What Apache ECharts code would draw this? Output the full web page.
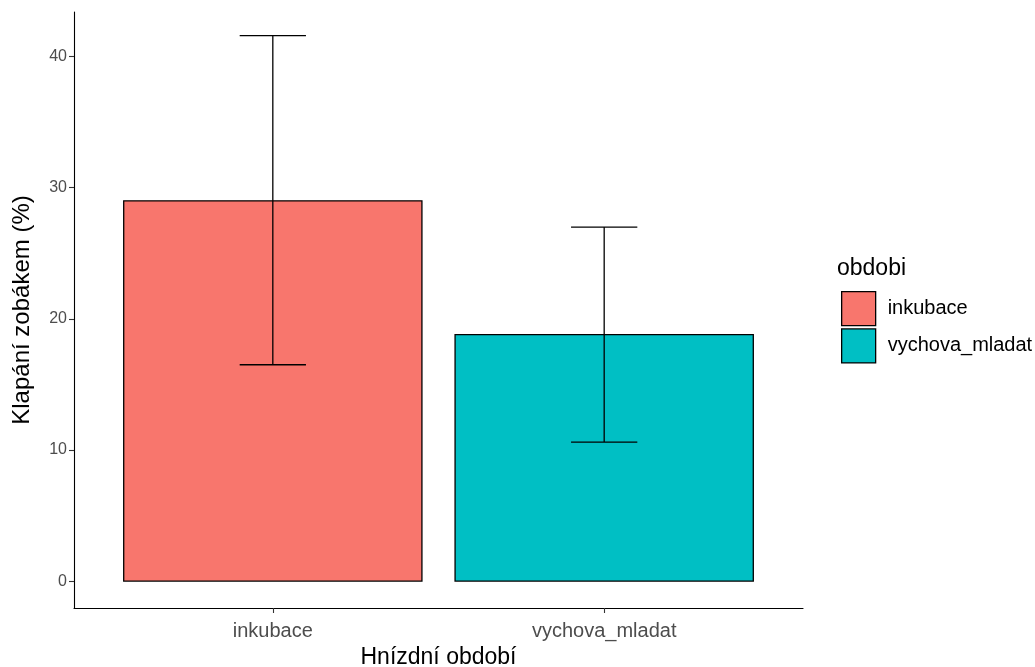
<!DOCTYPE html>
<html>
<head>
<meta charset="utf-8">
<script src="https://cdn.jsdelivr.net/npm/echarts@6/dist/echarts.min.js"></script>
<style>html,body{margin:0;padding:0;background:#fff}#c{width:1035px;height:667px}</style>
</head>
<body>
<div id="c"></div>
<script>
const categories = ['inkubace', 'vychova_mladat'];
const means = [29.0, 18.8];
const lower = [16.5, 10.6];
const upper = [41.6, 27.0];
const yTicks = [0, 10, 20, 30, 40];
const xTicks = [1, 2];
const colors = ['#F8766D', '#00BFC4'];

const chart = echarts.init(document.getElementById('c'), null, {renderer: 'canvas'});

const barSeries = categories.map((name, i) => ({
  type: 'custom',
  name: name,
  itemStyle: {color: colors[i], borderColor: '#000', borderWidth: 1.2},
  data: [[i + 1, means[i]]],
  renderItem: function (params, api) {
    const x = api.value(0), v = api.value(1);
    const p0 = api.coord([x - 0.45, 0]);
    const p1 = api.coord([x + 0.45, v]);
    return {
      type: 'rect',
      shape: {x: p0[0], y: p1[1], width: p1[0] - p0[0], height: p0[1] - p1[1]},
      style: {fill: colors[i], stroke: '#000', lineWidth: 1.3}
    };
  }
}));

const errData = categories.map((c, i) => [i + 1, lower[i], upper[i]]);

const errSeries = {
  type: 'custom',
  name: 'err',
  data: errData,
  z: 5,
  renderItem: function (params, api) {
    const x = api.value(0), lo = api.value(1), hi = api.value(2);
    const pl = api.coord([x, lo]);
    const ph = api.coord([x, hi]);
    const half = api.size([0.1, 0])[0];
    const st = {stroke: '#000', lineWidth: 1.3};
    return {
      type: 'group',
      children: [
        {type: 'line', shape: {x1: pl[0], y1: pl[1], x2: ph[0], y2: ph[1]}, style: st},
        {type: 'line', shape: {x1: ph[0] - half, y1: ph[1], x2: ph[0] + half, y2: ph[1]}, style: st},
        {type: 'line', shape: {x1: pl[0] - half, y1: pl[1], x2: pl[0] + half, y2: pl[1]}, style: st}
      ]
    };
  }
};

const FONT = 'Liberation Sans, Arial, sans-serif';

const option = {
  backgroundColor: '#fff',
  animation: false,
  textStyle: {fontFamily: FONT},
  title: {
    text: 'obdobi', left: 837, top: 257, padding: 0,
    textStyle: {fontSize: 23, fontWeight: 'normal', color: '#000', fontFamily: FONT}
  },
  legend: {
    orient: 'vertical', left: 841, top: 291, padding: 0,
    data: categories,
    icon: 'rect', itemWidth: 34, itemHeight: 34, itemGap: 2,
    itemStyle: {borderColor: '#000', borderWidth: 1.3},
    textStyle: {fontSize: 20, color: '#000', padding: [2, 0, 0, 7]},
    selectedMode: false
  },
  grid: {left: 74, right: 232, top: 12, bottom: 59, containLabel: false, outerBoundsMode: 'none'},
  xAxis: {
    type: 'value', min: 0.4, max: 2.6,
    name: 'Hnízdní období', nameLocation: 'middle', nameGap: 35,
    nameTextStyle: {fontSize: 23, color: '#000'},
    axisLine: {show: true, onZero: false, lineStyle: {color: '#000', width: 1.1}},
    axisTick: {show: true, customValues: xTicks, length: 5, lineStyle: {color: '#333', width: 1.1}},
    axisLabel: {customValues: xTicks, fontSize: 20, color: '#4D4D4D', margin: 13,
      formatter: v => categories[Math.round(v) - 1]},
    splitLine: {show: false}
  },
  yAxis: {
    type: 'value', min: -2.05, max: 43.4,
    name: 'Klapání zobákem (%)', nameLocation: 'middle', nameGap: 40,
    nameTextStyle: {fontSize: 24, color: '#000'},
    axisLine: {show: true, onZero: false, lineStyle: {color: '#000', width: 1.1}},
    axisTick: {show: true, customValues: yTicks, length: 5, lineStyle: {color: '#333', width: 1.1}},
    axisLabel: {customValues: yTicks, fontSize: 16, color: '#4D4D4D', margin: 7},
    splitLine: {show: false}
  },
  series: barSeries.concat([errSeries])
};
chart.setOption(option);
</script>
</body>
</html>
